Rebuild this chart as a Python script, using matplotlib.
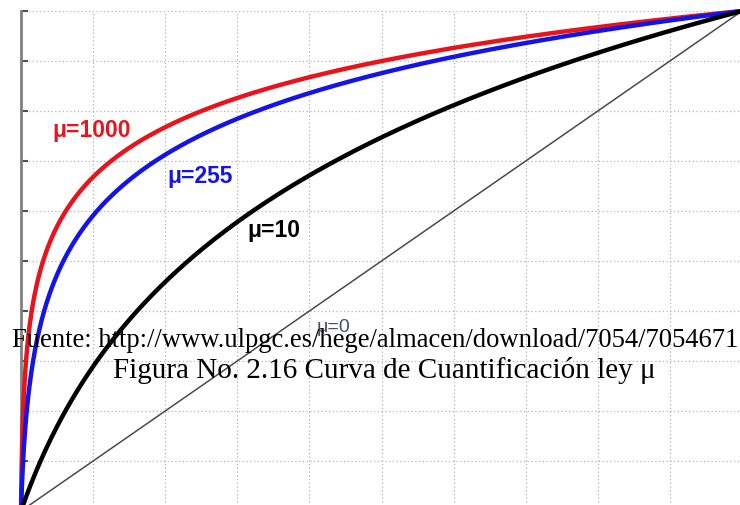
import numpy as np
import matplotlib.pyplot as plt

# curvas de compresion ley mu
mu_values = [1000, 255, 10]
mu_colors = ['#e8141c', '#1414e6', '#000000']
mu_labels = ['μ=1000', 'μ=255', 'μ=10']
label_pos = [(0.098, 0.764), (0.248, 0.670), (0.351, 0.562)]

fuente = 'Fuente: http://www.ulpgc.es/hege/almacen/download/7054/7054671'
titulo = 'Figura No. 2.16 Curva de Cuantificación ley μ'

x = np.linspace(0, 1, 4001)

fig = plt.figure(figsize=(7.4, 5.06), dpi=100)
ax = fig.add_axes([21 / 740, -6 / 506, 721 / 740, 500 / 506])

# mu = 0 -> recta
ax.plot(x, x, color='#4a4a4a', lw=1.1, clip_on=False, zorder=3)

for mu, col in zip(mu_values, mu_colors):
    y = np.log1p(mu * x) / np.log1p(mu)
    ax.plot(x, y, color=col, lw=3.2, clip_on=False, zorder=4)

for txt, col, (tx, ty) in zip(mu_labels, mu_colors, label_pos):
    ax.text(tx, ty, txt, color=col, fontsize=16.5, fontweight='bold',
            family='Liberation Sans', ha='center', va='center', zorder=5)
ax.text(0.433, 0.368, 'μ=0', color='#4a5260', fontsize=14,
        family='Liberation Sans', ha='center', va='center', zorder=5)

ax.set_xlim(0, 1)
ax.set_ylim(0, 1)
ax.set_xticks(np.arange(0, 1.01, 0.1))
ax.set_yticks(np.arange(0, 1.01, 0.1))
ax.set_xticklabels([])
ax.set_yticklabels([])
ax.grid(True, color='#b4b4b4', lw=0.9, linestyle=(0, (1, 2)))
for s in ['top', 'right', 'bottom']:
    ax.spines[s].set_visible(False)
ax.spines['left'].set_color('#808080')
ax.spines['left'].set_linewidth(2)
ax.tick_params(axis='y', direction='in', length=5, width=1.5, color='#505050')
ax.tick_params(axis='x', length=0)

fig.text(375 / 740, 1 - 347 / 506, fuente, family='Liberation Serif',
         fontsize=19.2, ha='center', va='baseline')
fig.text(384 / 740, 1 - 378 / 506, titulo, family='Liberation Serif',
         fontsize=21, ha='center', va='baseline')

fig.savefig('out.png', dpi=100)
